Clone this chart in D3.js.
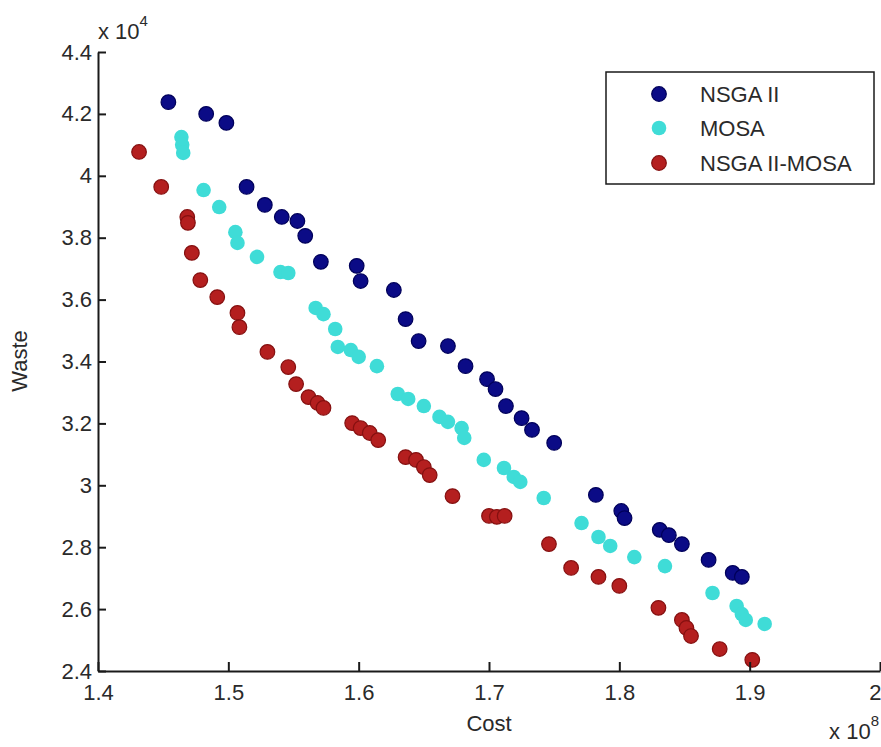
<!DOCTYPE html>
<html>
<head>
<meta charset="utf-8">
<script src="https://cdn.jsdelivr.net/npm/d3@7"></script>
<style>
  html, body { margin: 0; padding: 0; background: #fff; }
  svg { display: block; font-family: "Liberation Sans", Arial, sans-serif; }
</style>
</head>
<body>
<svg id="chart" width="881" height="747"></svg>
<script>
// ---- data (Cost in units of 1e8, Waste in units of 1e4) ----
const nsgaCost  = [1.454,1.483,1.4985,1.514,1.528,1.541,1.553,1.559,1.571,1.5985,1.6015,1.627,1.636,1.646,1.6685,1.682,1.6985,1.705,1.713,1.725,1.733,1.750,1.782,1.8015,1.804,1.831,1.838,1.848,1.8685,1.887,1.894];
const nsgaWaste = [4.238,4.200,4.171,3.964,3.906,3.867,3.854,3.806,3.722,3.709,3.660,3.631,3.537,3.466,3.450,3.385,3.343,3.311,3.256,3.217,3.179,3.137,2.969,2.917,2.894,2.856,2.839,2.810,2.759,2.717,2.704];

const mosaCost  = [1.464,1.4646,1.4654,1.481,1.493,1.5054,1.507,1.522,1.540,1.546,1.567,1.573,1.582,1.584,1.594,1.600,1.614,1.630,1.638,1.650,1.662,1.6685,1.679,1.681,1.696,1.7115,1.719,1.724,1.742,1.771,1.784,1.793,1.8115,1.835,1.8715,1.890,1.894,1.897,1.9115];
const mosaWaste = [4.125,4.100,4.074,3.954,3.899,3.818,3.783,3.738,3.689,3.686,3.573,3.553,3.505,3.447,3.437,3.415,3.385,3.295,3.279,3.256,3.221,3.205,3.185,3.153,3.082,3.056,3.027,3.011,2.959,2.878,2.833,2.804,2.768,2.739,2.652,2.610,2.584,2.565,2.552];

const hybridCost  = [1.4315,1.4485,1.4685,1.469,1.472,1.4785,1.4915,1.507,1.5085,1.530,1.546,1.552,1.5615,1.5685,1.573,1.595,1.6015,1.6085,1.615,1.636,1.644,1.650,1.6545,1.672,1.700,1.706,1.712,1.746,1.763,1.784,1.800,1.830,1.848,1.8515,1.855,1.877,1.902];
const hybridWaste = [4.077,3.964,3.867,3.848,3.751,3.663,3.608,3.557,3.511,3.431,3.382,3.327,3.285,3.266,3.250,3.201,3.185,3.169,3.146,3.091,3.082,3.059,3.033,2.965,2.901,2.898,2.901,2.810,2.733,2.704,2.675,2.604,2.565,2.539,2.513,2.471,2.436];

const seriesNames = ["NSGA II", "MOSA", "NSGA II-MOSA"];
const xTicks = [1.4,1.5,1.6,1.7,1.8,1.9,2.0];
const xTickLabels = ["1.4","1.5","1.6","1.7","1.8","1.9","2"];
const yTicks = [2.4,2.6,2.8,3.0,3.2,3.4,3.6,3.8,4.0,4.2,4.4];
const yTickLabels = ["2.4","2.6","2.8","3","3.2","3.4","3.6","3.8","4","4.2","4.4"];

// ---- layout ----
const svg = d3.select("#chart");
const plotL = 98, plotR = 880, plotT = 52, plotB = 671;
const FONT = 22;
const TXT = "#2a2a2a";
const x = d3.scaleLinear().domain([1.4, 2.0]).range([plotL, plotR]);
const y = d3.scaleLinear().domain([2.4, 4.4]).range([plotB, plotT]);

svg.append("rect").attr("width", 881).attr("height", 747).attr("fill", "#fff");

const styles = [
  { fill: "#0b0b86", stroke: "#00005a", sw: 1.2 },
  { fill: "#3fdcd7", stroke: "none", sw: 0 },
  { fill: "#b41f1f", stroke: "#851010", sw: 1.2 }
];
const series = [
  d3.zip(nsgaCost, nsgaWaste),
  d3.zip(mosaCost, mosaWaste),
  d3.zip(hybridCost, hybridWaste)
];

series.forEach((pts, i) => {
  svg.append("g").selectAll("circle").data(pts).join("circle")
    .attr("cx", d => x(d[0]))
    .attr("cy", d => y(d[1]))
    .attr("r", 7.3)
    .attr("fill", styles[i].fill)
    .attr("stroke", styles[i].stroke)
    .attr("stroke-width", styles[i].sw);
});

// ---- axes ----
const xAxis = d3.axisBottom(x).tickValues(xTicks)
  .tickFormat((d, i) => xTickLabels[i]).tickSizeInner(-9).tickSizeOuter(0).tickPadding(13);
const yAxis = d3.axisLeft(y).tickValues(yTicks)
  .tickFormat((d, i) => yTickLabels[i]).tickSizeInner(-8).tickSizeOuter(0).tickPadding(6);

const gx = svg.append("g").attr("transform", `translate(0,${plotB})`).call(xAxis);
const gy = svg.append("g").attr("transform", `translate(${plotL},0)`).call(yAxis);
[gx, gy].forEach(g => {
  g.select(".domain").attr("stroke", "#1a1a1a").attr("stroke-width", 2);
  g.selectAll(".tick line").attr("stroke", "#1a1a1a").attr("stroke-width", 2);
  g.selectAll(".tick text").attr("fill", TXT).attr("font-size", FONT)
    .attr("font-family", "'Liberation Sans', Arial, sans-serif");
});
// keep the last x label ("2") inside the picture edge
gx.selectAll(".tick text").filter((d, i) => i === xTicks.length - 1)
  .attr("text-anchor", "end").attr("x", 1);

// ---- axis labels & exponents ----
svg.append("text").attr("x", 489).attr("y", 731).attr("text-anchor", "middle")
  .attr("font-size", FONT).attr("fill", TXT).text("Cost");
svg.append("text").attr("transform", "translate(27,361) rotate(-90)").attr("text-anchor", "middle")
  .attr("font-size", FONT).attr("fill", TXT).text("Waste");

const expY = svg.append("text").attr("x", 98).attr("y", 39).attr("font-size", FONT).attr("fill", TXT);
expY.append("tspan").text("x 10");
expY.append("tspan").attr("dy", -13).attr("font-size", 15).text("4");

const expX = svg.append("text").attr("x", 879).attr("y", 739).attr("text-anchor", "end")
  .attr("font-size", FONT).attr("fill", TXT);
expX.append("tspan").text("x 10");
expX.append("tspan").attr("dy", -13).attr("font-size", 15).text("8");

// ---- legend ----
const lg = svg.append("g");
lg.append("rect").attr("x", 606).attr("y", 72).attr("width", 268).attr("height", 112)
  .attr("fill", "#fff").attr("stroke", "#1a1a1a").attr("stroke-width", 1.5);
const rowsY = [94, 128, 163];
seriesNames.forEach((name, i) => {
  lg.append("circle").attr("cx", 659).attr("cy", rowsY[i]).attr("r", 7.3)
    .attr("fill", styles[i].fill).attr("stroke", styles[i].stroke).attr("stroke-width", styles[i].sw);
  lg.append("text").attr("x", 700).attr("y", rowsY[i] + 8).attr("font-size", FONT)
    .attr("fill", TXT).text(name);
});
</script>
</body>
</html>
